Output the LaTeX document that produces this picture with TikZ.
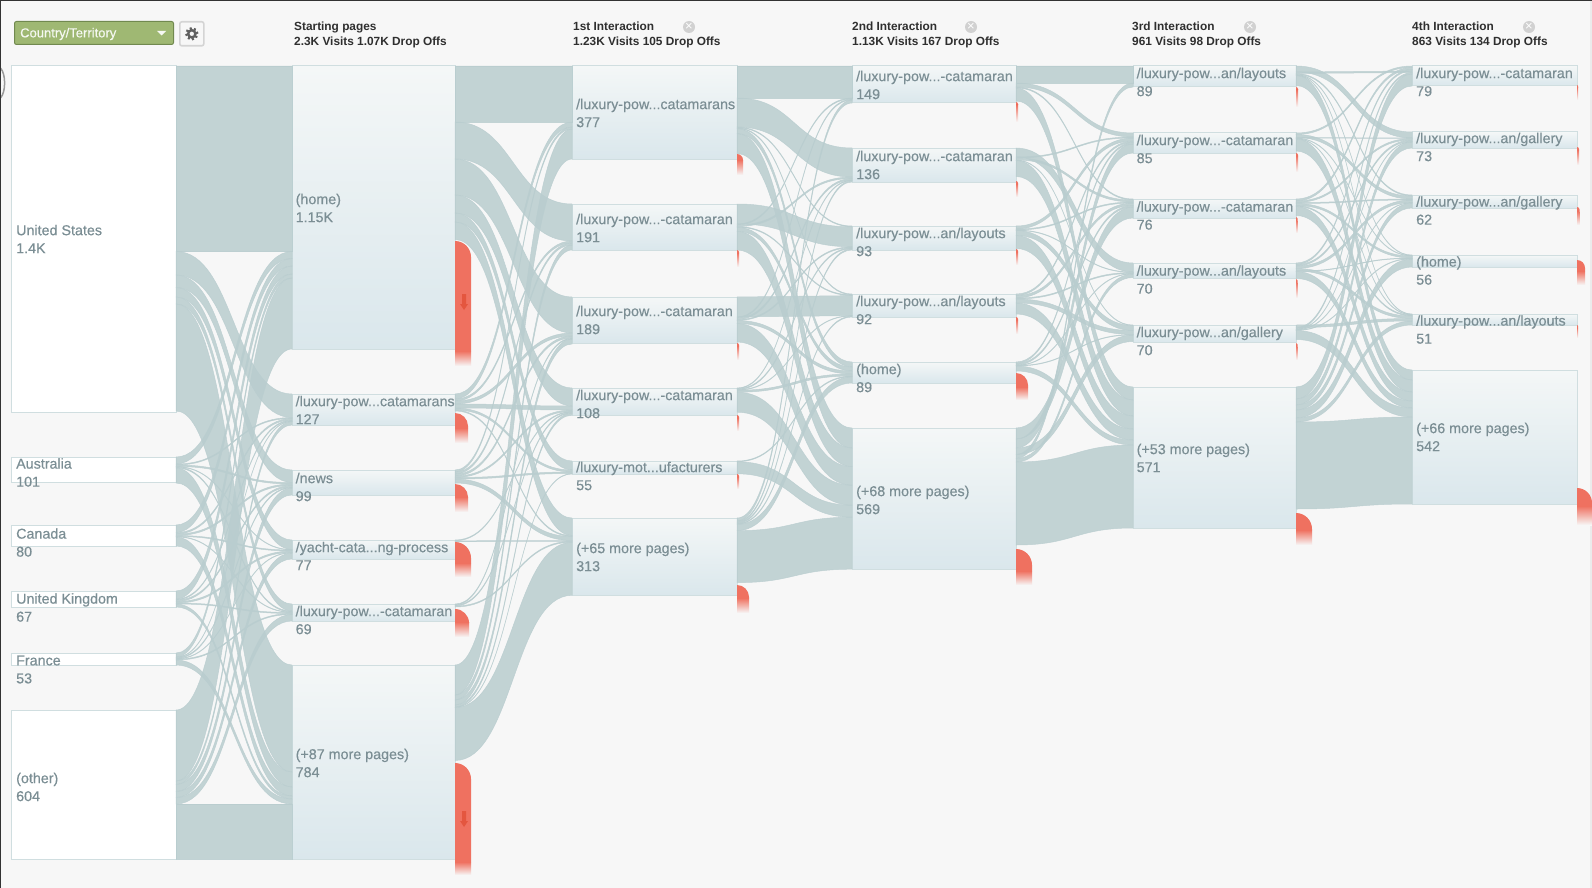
\documentclass[tikz,border=0pt]{standalone}
\usepackage{fontspec}
\setmainfont{Liberation Sans}
\newfontfamily\labfont[FakeBold=0.4]{Liberation Sans}
\definecolor{bgpage}{HTML}{F7F7F7}
\definecolor{ribboncol}{HTML}{B9CDCF}
\definecolor{boxline}{HTML}{D0DEE0}
\definecolor{boxtop}{HTML}{F4F7F7}
\definecolor{boxbot}{HTML}{DAE7EC}
\definecolor{labcol}{HTML}{7B8E94}
\definecolor{dropred}{HTML}{EF7160}
\definecolor{droparr}{HTML}{E4563F}
\definecolor{headcol}{HTML}{2F2F2F}
\definecolor{pickfill}{HTML}{9FB873}
\definecolor{pickline}{HTML}{71894F}
\tikzset{
  ribbon/.style={fill=ribboncol,draw=ribboncol,line width=.5pt,opacity=.85},
  pagebox/.style={draw=boxline,line width=1pt,top color=boxtop,bottom color=boxbot,
                  minimum width=#1pt,anchor=north west,inner sep=0pt,outer sep=0pt},
  landbox/.style={draw=boxline,line width=1pt,fill=white,
                  minimum width=#1pt,anchor=north west,inner sep=0pt,outer sep=0pt},
  pagelab/.style={anchor=west,align=left,inner sep=0pt,text=labcol,
                  font=\fontsize{14.3}{18}\selectfont\labfont},
  headlab/.style={anchor=west,align=left,inner sep=0pt,text=headcol,
                  font=\fontsize{11.85}{15}\selectfont\bfseries},
  closebtn/.style={circle,fill=black!18,text=white,inner sep=0pt,minimum size=12pt,
                   font=\fontsize{13}{13}\selectfont},
}
\newcommand{\plab}[2]{#1\\#2}
% stacks the ribbons of a node from its top, in the order they are called
\newcommand{\flow}[3]{%
  \ifcsname fo#1\endcsname\else\expandafter\gdef\csname fo#1\endcsname{0}\fi
  \ifcsname fi#2\endcsname\else\expandafter\gdef\csname fi#2\endcsname{0}\fi
  \pgfmathsetmacro{\fromy}{\csname fo#1\endcsname}%
  \pgfmathsetmacro{\toy}{\csname fi#2\endcsname}%
  \pgfmathsetmacro{\fromz}{\fromy+#3}%
  \pgfmathsetmacro{\toz}{\toy+#3}%
  \path[ribbon] ([yshift=-\fromy pt]#1.north east)
     .. controls +(58,0) and +(-58,0) .. ([yshift=-\toy pt]#2.north west)
     -- ([yshift=-\toz pt]#2.north west)
     .. controls +(-58,0) and +(58,0) .. ([yshift=-\fromz pt]#1.north east) -- cycle;
  \expandafter\xdef\csname fo#1\endcsname{\fromz}%
  \expandafter\xdef\csname fi#2\endcsname{\toz}%
}
% node, top, width, end of the solid part, end of the fade
\newcommand{\dropoff}[5]{%
  \fill[dropred] (#1.east |- 0,#2) .. controls +({.55*#3},0) and +(0,{-.55*#3}) .. ++(#3,#3)
     -- ++(0,{#4-#2-#3}) -- ++({-#3},0) -- cycle;
  \shade[top color=dropred,bottom color=bgpage] (#1.east |- 0,#4) rectangle +(#3,{#5-#4});
}
\newcommand{\droparrow}[2]{%
  \fill[droparr] (#1-2,#2) -- (#1+2,#2) -- (#1+2,#2+10) -- (#1+4,#2+10) -- (#1,#2+16)
     -- (#1-4,#2+10) -- (#1-2,#2+10) -- cycle;
}
\begin{document}
\begin{tikzpicture}[x=1pt,y=-1pt]
 \fill[bgpage] (0,0) rectangle (1592,888);
 \useasboundingbox (0,0) rectangle (1592,888);
 \fill[black!8] (1590,0) rectangle (1592,888);
 \draw[black!40,line width=1.5pt] (.5,68) .. controls (6,74) and (6,92) .. (.5,98);

 % top bar
 \draw (14,21) node[draw=pickline,fill=pickfill,line width=1pt,rounded corners=2pt,anchor=north west,
                    minimum width=159pt,minimum height=23pt,inner sep=0pt] (picker) {};
 \draw (20,34) node[anchor=west,inner sep=0pt,text=white!90!pickfill,font=\fontsize{13}{14}\selectfont\labfont] (pickert) {Country/Territory};
 \fill[white!92!pickfill] (157,31) -- (166,31) -- (161.5,35.5) -- cycle;
 \draw (179,21) node[draw=black!17,fill=black!3,line width=1.6pt,rounded corners=2pt,anchor=north west,
                     minimum width=24pt,minimum height=24pt,inner sep=0pt] (gear) {};
 \draw[black!62,line width=2.4pt,dash pattern=on 2.1pt off 2.2pt] (gear.center) circle (5.6pt);
 \draw[black!62,line width=2.4pt] (gear.center) circle (3.6pt);

 \draw (294,35) node[headlab] (head0) {\plab{Starting pages}{2.3K Visits 1.07K Drop Offs}};
 \draw (573,35) node[headlab] (head1) {\plab{1st Interaction}{1.23K Visits 105 Drop Offs}};
 \draw (852,35) node[headlab] (head2) {\plab{2nd Interaction}{1.13K Visits 167 Drop Offs}};
 \draw (1132,35) node[headlab] (head3) {\plab{3rd Interaction}{961 Visits 98 Drop Offs}};
 \draw (1412,35) node[headlab] (head4) {\plab{4th Interaction}{863 Visits 134 Drop Offs}};
 \draw (689,27) node[closebtn] (close1) {×};
 \draw (971,27) node[closebtn] (close2) {×};
 \draw (1250,27) node[closebtn] (close3) {×};
 \draw (1529,27) node[closebtn] (close4) {×};

 % countries
 \draw (11,66) node[landbox=165,minimum height=346pt] (us) {};
 \draw (11,457) node[landbox=165,minimum height=25pt] (aus) {};
 \draw (11,525) node[landbox=165,minimum height=21pt] (can) {};
 \draw (11,591) node[landbox=165,minimum height=16pt] (uk) {};
 \draw (11,653) node[landbox=165,minimum height=12pt] (fra) {};
 \draw (11,710) node[landbox=165,minimum height=149pt] (oth) {};
 \draw (16,239) node[pagelab] (ust) {\plab{United States}{1.4K}};
 \draw (16,472.5) node[pagelab] (aust) {\plab{Australia}{101}};
 \draw (16,542.5) node[pagelab] (cant) {\plab{Canada}{80}};
 \draw (16,607.5) node[pagelab] (ukt) {\plab{United Kingdom}{67}};
 \draw (16,669.5) node[pagelab] (frat) {\plab{France}{53}};
 \draw (16,787) node[pagelab] (otht) {\plab{(other)}{604}};

 % starting pages
 \draw (292,66) node[pagebox=163,minimum height=283pt] (home) {};
 \draw (292,394) node[pagebox=163,minimum height=31pt] (lcat) {};
 \draw (292,470) node[pagebox=163,minimum height=25pt] (news) {};
 \draw (292,540) node[pagebox=163,minimum height=19pt] (yacht) {};
 \draw (292,604) node[pagebox=163,minimum height=17pt] (lcab) {};
 \draw (292,665) node[pagebox=163,minimum height=194pt] (more) {};
 \draw (295.5,208) node[pagelab] (homet) {\plab{(home)}{1.15K}};
 \draw (295.5,410) node[pagelab] (lcatt) {\plab{/luxury-pow...catamarans}{127}};
 \draw (295.5,487) node[pagelab] (newst) {\plab{/news}{99}};
 \draw (295.5,556) node[pagelab] (yachtt) {\plab{/yacht-cata...ng-process}{77}};
 \draw (295.5,620) node[pagelab] (lcabt) {\plab{/luxury-pow...-catamaran}{69}};
 \draw (295.5,763) node[pagelab] (moret) {\plab{(+87 more pages)}{784}};

 % 1st interaction
 \draw (572,66) node[pagebox=165,minimum height=93pt] (one1) {};
 \draw (572,204) node[pagebox=165,minimum height=46pt] (one2) {};
 \draw (572,297) node[pagebox=165,minimum height=46pt] (one3) {};
 \draw (572,388) node[pagebox=165,minimum height=27pt] (one4) {};
 \draw (572,461) node[pagebox=165,minimum height=13pt] (one5) {};
 \draw (572,518) node[pagebox=165,minimum height=77pt] (one6) {};
 \draw (576,113) node[pagelab] (one1t) {\plab{/luxury-pow...catamarans}{377}};
 \draw (576,228) node[pagelab] (one2t) {\plab{/luxury-pow...-catamaran}{191}};
 \draw (576,320) node[pagelab] (one3t) {\plab{/luxury-pow...-catamaran}{189}};
 \draw (576,404) node[pagelab] (one4t) {\plab{/luxury-pow...-catamaran}{108}};
 \draw (576,476) node[pagelab] (one5t) {\plab{/luxury-mot...ufacturers}{55}};
 \draw (576,557) node[pagelab] (one6t) {\plab{(+65 more pages)}{313}};

 % 2nd interaction
 \draw (852,66) node[pagebox=164,minimum height=37pt] (two1) {};
 \draw (852,148) node[pagebox=164,minimum height=34pt] (two2) {};
 \draw (852,226) node[pagebox=164,minimum height=24pt] (two3) {};
 \draw (852,294) node[pagebox=164,minimum height=23pt] (two4) {};
 \draw (852,362) node[pagebox=164,minimum height=21pt] (two5) {};
 \draw (852,428) node[pagebox=164,minimum height=141pt] (two6) {};
 \draw (856,85) node[pagelab] (two1t) {\plab{/luxury-pow...-catamaran}{149}};
 \draw (856,165) node[pagelab] (two2t) {\plab{/luxury-pow...-catamaran}{136}};
 \draw (856,242) node[pagelab] (two3t) {\plab{/luxury-pow...an/layouts}{93}};
 \draw (856,310) node[pagelab] (two4t) {\plab{/luxury-pow...an/layouts}{92}};
 \draw (856,378) node[pagelab] (two5t) {\plab{(home)}{89}};
 \draw (856,500) node[pagelab] (two6t) {\plab{(+68 more pages)}{569}};

 % 3rd interaction
 \draw (1133,66) node[pagebox=163,minimum height=21pt] (thr1) {};
 \draw (1133,133) node[pagebox=163,minimum height=20pt] (thr2) {};
 \draw (1133,199) node[pagebox=163,minimum height=19pt] (thr3) {};
 \draw (1133,263) node[pagebox=163,minimum height=15pt] (thr4) {};
 \draw (1133,325) node[pagebox=163,minimum height=17pt] (thr5) {};
 \draw (1133,387) node[pagebox=163,minimum height=141pt] (thr6) {};
 \draw (1136.5,82) node[pagelab] (thr1t) {\plab{/luxury-pow...an/layouts}{89}};
 \draw (1136.5,149) node[pagelab] (thr2t) {\plab{/luxury-pow...-catamaran}{85}};
 \draw (1136.5,215.5) node[pagelab] (thr3t) {\plab{/luxury-pow...-catamaran}{76}};
 \draw (1136.5,279.5) node[pagelab] (thr4t) {\plab{/luxury-pow...an/layouts}{70}};
 \draw (1136.5,341) node[pagelab] (thr5t) {\plab{/luxury-pow...an/gallery}{70}};
 \draw (1136.5,458) node[pagelab] (thr6t) {\plab{(+53 more pages)}{571}};

 % 4th interaction
 \draw (1412,66) node[pagebox=165,minimum height=20pt] (fou1) {};
 \draw (1412,132) node[pagebox=165,minimum height=16pt] (fou2) {};
 \draw (1412,195) node[pagebox=165,minimum height=13pt] (fou3) {};
 \draw (1412,255) node[pagebox=165,minimum height=12pt] (fou4) {};
 \draw (1412,314) node[pagebox=165,minimum height=11pt] (fou5) {};
 \draw (1412,370) node[pagebox=165,minimum height=134pt] (fou6) {};
 \draw (1416,82) node[pagelab] (fou1t) {\plab{/luxury-pow...-catamaran}{79}};
 \draw (1416,147) node[pagelab] (fou2t) {\plab{/luxury-pow...an/gallery}{73}};
 \draw (1416,210.5) node[pagelab] (fou3t) {\plab{/luxury-pow...an/gallery}{62}};
 \draw (1416,270.5) node[pagelab] (fou4t) {\plab{(home)}{56}};
 \draw (1416,329.5) node[pagelab] (fou5t) {\plab{/luxury-pow...an/layouts}{51}};
 \draw (1416,437) node[pagelab] (fou6t) {\plab{(+66 more pages)}{542}};

 % countries to starting pages
 \flow{us}{home}{185.5} \flow{us}{lcat}{23.5} \flow{us}{news}{12.5} \flow{us}{yacht}{9.5} \flow{us}{lcab}{7} \flow{us}{more}{107}
 \flow{aus}{home}{7} \flow{aus}{lcat}{1} \flow{aus}{news}{1.5} \flow{aus}{yacht}{.5} \flow{aus}{lcab}{1} \flow{aus}{more}{15}
 \flow{can}{home}{7.5} \flow{can}{lcat}{1.5} \flow{can}{news}{1.5} \flow{can}{yacht}{1} \flow{can}{lcab}{.5} \flow{can}{more}{9}
 \flow{uk}{home}{8} \flow{uk}{lcat}{1} \flow{uk}{news}{1.5} \flow{uk}{yacht}{1.5} \flow{uk}{lcab}{1} \flow{uk}{more}{3}
 \flow{fra}{home}{4} \flow{fra}{lcat}{.5} \flow{fra}{news}{1} \flow{fra}{yacht}{.5} \flow{fra}{lcab}{1} \flow{fra}{more}{5}
 \flow{oth}{home}{71} \flow{oth}{lcat}{3.5} \flow{oth}{news}{7} \flow{oth}{yacht}{6} \flow{oth}{lcab}{6.5} \flow{oth}{more}{55}

 % starting pages to 1st interaction
 \flow{home}{one1}{56} \flow{home}{one2}{37} \flow{home}{one3}{36} \flow{home}{one4}{18} \flow{home}{one5}{9} \flow{home}{one6}{17.5}
 \flow{lcat}{one1}{5} \flow{lcat}{one2}{2} \flow{lcat}{one3}{3} \flow{lcat}{one4}{4} \flow{lcat}{one5}{2} \flow{lcat}{one6}{1}
 \flow{news}{one1}{2} \flow{news}{one2}{2} \flow{news}{one3}{2} \flow{news}{one4}{1.5} \flow{news}{one5}{1.5} \flow{news}{one6}{4}
 \flow{yacht}{one4}{.8} \flow{yacht}{one6}{.8}
 \flow{lcab}{one3}{1} \flow{lcab}{one4}{1} \flow{lcab}{one6}{1}
 \flow{more}{one1}{30} \flow{more}{one2}{5} \flow{more}{one3}{5} \flow{more}{one4}{2} \flow{more}{one5}{.5} \flow{more}{one6}{53}

 % 1st to 2nd interaction
 \flow{one1}{two1}{32} \flow{one1}{two2}{29} \flow{one1}{two3}{.8} \flow{one1}{two4}{.8} \flow{one1}{two5}{5} \flow{one1}{two6}{20}
 \flow{one2}{two3}{20} \flow{one2}{two1}{1} \flow{one2}{two2}{1.5} \flow{one2}{two4}{.8} \flow{one2}{two5}{4} \flow{one2}{two6}{18.7}
 \flow{one3}{two4}{20} \flow{one3}{two1}{1} \flow{one3}{two2}{1.5} \flow{one3}{two3}{1} \flow{one3}{two5}{3} \flow{one3}{two6}{18.5}
 \flow{one4}{two2}{.7} \flow{one4}{two3}{1} \flow{one4}{two4}{.5} \flow{one4}{two5}{2} \flow{one4}{two6}{20}
 \flow{one5}{two5}{.8} \flow{one5}{two6}{12}
 \flow{one6}{two1}{3} \flow{one6}{two2}{1.3} \flow{one6}{two3}{1.2} \flow{one6}{two4}{.9} \flow{one6}{two5}{6.2} \flow{one6}{two6}{52}

 % 2nd to 3rd interaction
 \flow{two1}{thr1}{17} \flow{two1}{thr2}{4} \flow{two1}{thr3}{1} \flow{two1}{thr6}{13}
 \flow{two2}{thr4}{9} \flow{two2}{thr2}{1} \flow{two2}{thr3}{2} \flow{two2}{thr5}{.5} \flow{two2}{thr6}{16}
 \flow{two3}{thr2}{3} \flow{two3}{thr3}{1} \flow{two3}{thr4}{.5} \flow{two3}{thr5}{5} \flow{two3}{thr6}{13}
 \flow{two4}{thr2}{1.5} \flow{two4}{thr3}{2.5} \flow{two4}{thr4}{1} \flow{two4}{thr5}{4} \flow{two4}{thr6}{11}
 \flow{two5}{thr2}{1.5} \flow{two5}{thr3}{1.5} \flow{two5}{thr4}{.5} \flow{two5}{thr5}{.5} \flow{two5}{thr6}{5}
 \flow{two6}{thr3}{11} \flow{two6}{thr2}{9} \flow{two6}{thr5}{6.5} \flow{two6}{thr1}{4} \flow{two6}{thr4}{3.5} \flow{two6}{thr6}{83}

 % 3rd to 4th interaction
 \flow{thr2}{fou1}{1.5} \flow{thr3}{fou1}{2} \flow{thr4}{fou1}{1.5}
 \flow{thr1}{fou2}{6} \flow{thr1}{fou1}{1.5} \flow{thr1}{fou3}{1} \flow{thr1}{fou4}{.5} \flow{thr1}{fou5}{.5} \flow{thr1}{fou6}{10}
 \flow{thr2}{fou3}{3} \flow{thr2}{fou2}{.5} \flow{thr2}{fou4}{.5} \flow{thr2}{fou5}{.5} \flow{thr2}{fou6}{12}
 \flow{thr3}{fou2}{1.5} \flow{thr3}{fou3}{1} \flow{thr3}{fou4}{2} \flow{thr3}{fou5}{1} \flow{thr3}{fou6}{9}
 \flow{thr4}{fou2}{1.5} \flow{thr4}{fou3}{2.5} \flow{thr4}{fou5}{2.5} \flow{thr4}{fou4}{.5} \flow{thr4}{fou6}{7}
 \flow{thr5}{fou5}{2.5} \flow{thr5}{fou1}{1.5} \flow{thr5}{fou2}{.5} \flow{thr5}{fou3}{.5} \flow{thr5}{fou4}{.5} \flow{thr5}{fou6}{9}
 \flow{thr6}{fou1}{12} \flow{thr6}{fou2}{6} \flow{thr6}{fou3}{5} \flow{thr6}{fou4}{8} \flow{thr6}{fou5}{4} \flow{thr6}{fou6}{87}

 % drop offs
 \dropoff{home}{241}{16}{351}{366}
 \droparrow{464}{294}
 \dropoff{lcat}{413}{13}{428}{443}
 \dropoff{news}{484}{13}{497}{512}
 \dropoff{yacht}{542}{16}{563}{577}
 \dropoff{lcab}{609}{14}{622}{637}
 \dropoff{more}{763}{16}{862}{875}
 \droparrow{464}{811}
 \dropoff{one1}{154}{6}{160}{175}
 \dropoff{one2}{250}{2}{253}{267}
 \dropoff{one3}{343}{2}{346}{360}
 \dropoff{one4}{415}{2}{418}{431}
 \dropoff{one5}{474}{2}{477}{489}
 \dropoff{one6}{585}{12}{598}{613}
 \dropoff{two1}{102}{2}{105}{122}
 \dropoff{two2}{181}{2}{184}{197}
 \dropoff{two3}{249}{2}{252}{265}
 \dropoff{two4}{317}{2}{320}{334}
 \dropoff{two5}{373}{12}{387}{400}
 \dropoff{two6}{549}{16}{571}{585}
 \dropoff{thr1}{87}{2}{90}{107}
 \dropoff{thr2}{153}{2}{156}{172}
 \dropoff{thr3}{217}{1.5}{220}{233}
 \dropoff{thr4}{279}{1.5}{282}{298}
 \dropoff{thr5}{343}{1.5}{346}{360}
 \dropoff{thr6}{513}{16}{530}{545}
 \dropoff{fou1}{85}{1}{88}{100}
 \dropoff{fou2}{147}{2}{150}{165}
 \dropoff{fou3}{207}{2.5}{211}{225}
 \dropoff{fou4}{260}{8}{271}{285}
 \dropoff{fou5}{325}{1}{328}{338}
 \dropoff{fou6}{488}{15}{506}{525}

 % window edge
 \fill[black!80] (0,0) rectangle (1592,1);
 \fill[black!80] (0,0) rectangle (1,888);
\end{tikzpicture}
\end{document}
